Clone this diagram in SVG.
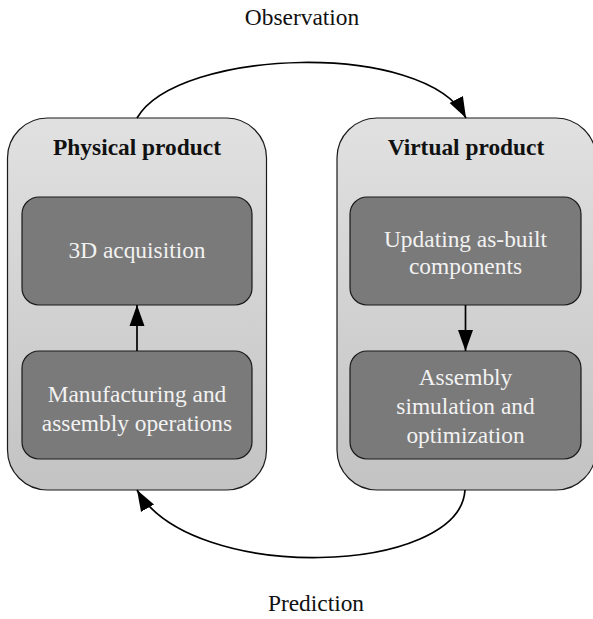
<svg xmlns="http://www.w3.org/2000/svg" width="593" height="619" viewBox="0 0 593 619">
<style>
.container{stroke:#1a1a1a;stroke-width:1.2;fill:url(#cg)}
.box{fill:#7a7a7a;stroke:#1a1a1a;stroke-width:1.2}
.title{font-family:"Liberation Serif",serif;font-size:23.4px;font-weight:bold;fill:#111;text-anchor:middle}
.inner{font-family:"Liberation Serif",serif;font-size:23.4px;fill:#f2f2f2;text-anchor:middle}
.label{font-family:"Liberation Serif",serif;font-size:23.4px;fill:#111;text-anchor:middle}
.edge{fill:none;stroke:#000;stroke-width:1.7;marker-end:url(#ah)}
</style>
<defs>
<linearGradient id="cg" x1="0" y1="0" x2="0" y2="1">
<stop offset="0" stop-color="#e1e1e1"/>
<stop offset="1" stop-color="#c3c3c3"/>
</linearGradient>
<marker id="ah" markerWidth="22" markerHeight="16" refX="21" refY="8" orient="auto" markerUnits="userSpaceOnUse">
<path d="M0,0.5 L21,8 L0,15.5 Z" fill="#000"/>
</marker>
</defs>
<g id="physical">
<rect class="container" x="7.5" y="118" width="259" height="372" rx="40" ry="40"/>
<text class="title" x="137" y="155">Physical product</text>
</g>
<g id="virtual">
<rect class="container" x="337" y="118" width="259" height="372" rx="40" ry="40"/>
<text class="title" x="466" y="155">Virtual product</text>
</g>
<g id="acquisition">
<rect class="box" x="22" y="197" width="230" height="108" rx="17" ry="17"/>
<text class="inner" x="137" y="258">3D acquisition</text>
</g>
<g id="manufacturing">
<rect class="box" x="22" y="351" width="230" height="108" rx="17" ry="17"/>
<text class="inner" x="137" y="402">Manufacturing and</text>
<text class="inner" x="137" y="431">assembly operations</text>
</g>
<g id="updating">
<rect class="box" x="350" y="197" width="231" height="108" rx="17" ry="17"/>
<text class="inner" x="465.5" y="246.5">Updating as-built</text>
<text class="inner" x="465.5" y="274">components</text>
</g>
<g id="simulation">
<rect class="box" x="350" y="351" width="231" height="108" rx="17" ry="17"/>
<text class="inner" x="465.5" y="385">Assembly</text>
<text class="inner" x="465.5" y="414">simulation and</text>
<text class="inner" x="465.5" y="443">optimization</text>
</g>
<g id="connectors">
<path class="edge" d="M137,351 L137,305"/>
<path class="edge" d="M465.5,305 L465.5,351"/>
<path class="edge" d="M137,118 C178,48 425,40 466,118"/>
<path class="edge" d="M465,490 C460,575 192,585 137,490"/>
</g>
<g id="labels">
<text class="label" x="302" y="25">Observation</text>
<text class="label" x="316" y="611">Prediction</text>
</g>
</svg>
